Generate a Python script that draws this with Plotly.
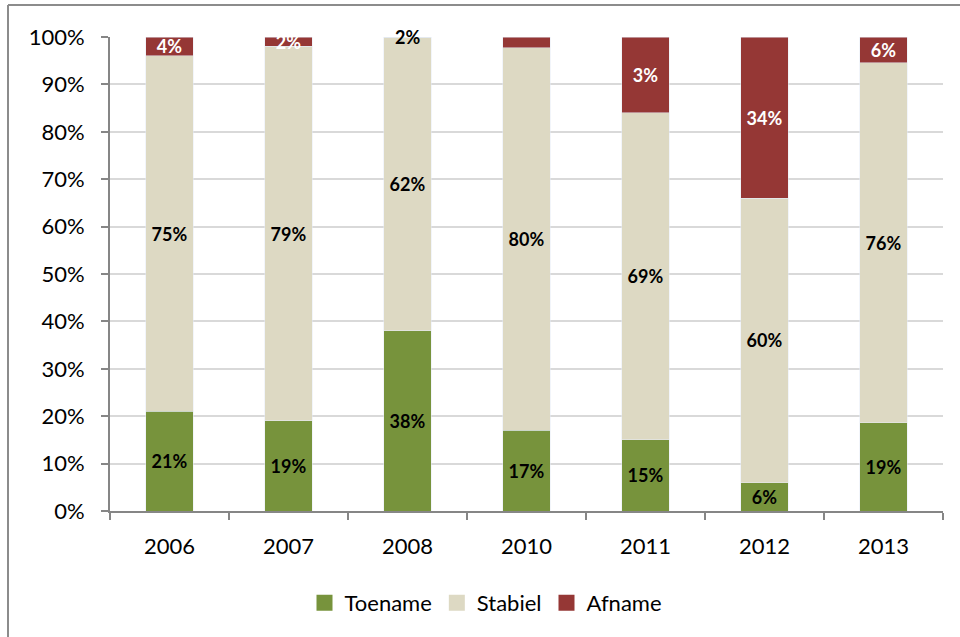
import plotly.graph_objects as go

years = ["2006", "2007", "2008", "2010", "2011", "2012", "2013"]
toename = [21, 19, 38, 17, 15, 6, 18.6]
stabiel = [75, 79, 62, 80.7, 69, 60, 76]
afname = [4, 2, 0, 2.3, 16, 34, 5.4]

toename_labels = ["21%", "19%", "38%", "17%", "15%", "6%", "19%"]
stabiel_labels = ["75%", "79%", "62%", "80%", "69%", "60%", "76%"]
afname_labels = ["4%", "2%", "2%", "", "3%", "34%", "6%"]

series_names = ["Toename", "Stabiel", "Afname"]
series_colors = ["#77933c", "#ddd9c3", "#953735"]

FONT = "Lato"
LBL = dict(family=FONT, size=18, weight="bold")

# afname labels on zero-height segments are drawn as annotations on the 100% line
afname_inside = [t if v > 0 else "" for t, v in zip(afname_labels, afname)]

fig = go.Figure()
fig.add_trace(go.Bar(x=years, y=toename, name=series_names[0], marker_color=series_colors[0],
                     text=toename_labels, textposition="inside", insidetextanchor="middle",
                     textfont=dict(LBL, color="black"), constraintext="none", hoverinfo="skip",
                     showlegend=False))
fig.add_trace(go.Bar(x=years, y=stabiel, name=series_names[1], marker_color=series_colors[1],
                     text=stabiel_labels, textposition="inside", insidetextanchor="middle",
                     textfont=dict(LBL, color="black"), constraintext="none", hoverinfo="skip",
                     showlegend=False))
fig.add_trace(go.Bar(x=years, y=afname, name=series_names[2], marker_color=series_colors[2],
                     text=afname_inside, textposition="inside", insidetextanchor="middle",
                     textfont=dict(LBL, color="white"), constraintext="none",
                     hoverinfo="skip", showlegend=False))

# legend entries with larger square swatches
for n, c in zip(series_names, series_colors):
    fig.add_trace(go.Scatter(x=[None], y=[None], mode="markers", name=n,
                             marker=dict(symbol="square", size=16, color=c), hoverinfo="skip"))

for i, (t, v, s, g) in enumerate(zip(afname_labels, afname, stabiel, toename)):
    if v == 0 and t:
        fig.add_annotation(x=i, y=g + s, text=t, showarrow=False, yanchor="middle",
                           font=dict(LBL, color="black"))

W, H = 960, 637
L, R, T, B = 110, 17, 37, 126
pw, ph = W - L - R, H - T - B
def px(x): return (x - L) / pw
def py(y): return (H - B - y) / ph

frame = dict(color="#8c8c8c", width=2)
fig.add_shape(type="line", xref="paper", yref="paper", x0=px(8), x1=px(8), y0=py(5), y1=py(640), line=frame)
fig.add_shape(type="line", xref="paper", yref="paper", x0=px(8), x1=px(965), y0=py(5), y1=py(5), line=frame)

fig.update_layout(
    width=W, height=H,
    margin=dict(l=L, r=R, t=T, b=B),
    barmode="stack", bargap=0.6,
    plot_bgcolor="white", paper_bgcolor="white",
    font=dict(family=FONT, size=22, color="black"),
    uniformtext=dict(minsize=18, mode="show"),
    legend=dict(orientation="h", x=px(486), xanchor="center", y=py(603), yanchor="middle",
                font=dict(family=FONT, size=22), traceorder="normal", itemwidth=30),
    showlegend=True,
)
fig.update_yaxes(range=[0, 100], dtick=10, ticksuffix="%", gridcolor="#d9d9d9", gridwidth=2,
                 showline=True, linecolor="#868686", linewidth=2, ticks="outside",
                 ticklen=7, tickcolor="#868686", tickwidth=2, zeroline=False,
                 ticklabelstandoff=12)
fig.update_xaxes(type="category", range=[-0.5, len(years) - 0.5], showline=True,
                 linecolor="#868686", linewidth=2,
                 ticks="outside", tickson="boundaries", ticklen=7, tickcolor="#868686",
                 tickwidth=2, showgrid=False, ticklabelstandoff=15)

fig.write_html("out.html", config={"displayModeBar": False},
               post_script="document.body.style.margin='0';")
